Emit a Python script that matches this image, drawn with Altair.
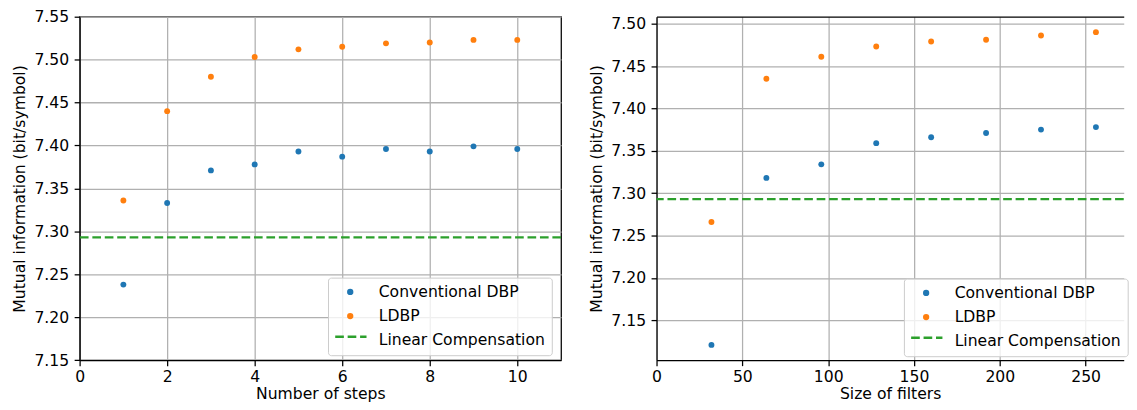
import altair as alt
import pandas as pd

# ---- data ----
steps = [1, 2, 3, 4, 5, 6, 7, 8, 9, 10]
steps_conv = [7.238, 7.333, 7.371, 7.378, 7.393, 7.387, 7.396, 7.393, 7.399, 7.396]
steps_ldbp = [7.336, 7.440, 7.480, 7.503, 7.512, 7.515, 7.519, 7.520, 7.523, 7.523]

filters = [32, 64, 96, 128, 160, 192, 224, 256]
filt_conv = [7.121, 7.318, 7.334, 7.359, 7.366, 7.371, 7.375, 7.378]
filt_ldbp = [7.266, 7.435, 7.461, 7.473, 7.479, 7.481, 7.486, 7.490]

linear_mi = 7.293

series_names = ["Conventional DBP", "LDBP", "Linear Compensation"]
series_colors = ["#1f77b4", "#ff7f0e", "transparent"]
linear_color = "#2ca02c"

left_yticks = [7.15, 7.20, 7.25, 7.30, 7.35, 7.40, 7.45, 7.50, 7.55]
right_yticks = [7.15, 7.20, 7.25, 7.30, 7.35, 7.40, 7.45, 7.50]
left_xticks = [0, 2, 4, 6, 8, 10]
right_xticks = [0, 50, 100, 150, 200, 250]

FONT = "DejaVu Sans"
FS = 15.7
LW = 1.26
DASH = [8.7, 3.8]
H = 345.3


def long_df(xs, conv, ldbp):
    rows = []
    for x, v in zip(xs, conv):
        rows.append({"x": x, "mi": v, "series": series_names[0]})
    for x, v in zip(xs, ldbp):
        rows.append({"x": x, "mi": v, "series": series_names[1]})
    return pd.DataFrame(rows)


df_steps = long_df(steps, steps_conv, steps_ldbp)
df_filt = long_df(filters, filt_conv, filt_ldbp)
df_lin = pd.DataFrame({"mi": [linear_mi], "series": [series_names[2]]})


def point_legend(lx, ly):
    return alt.Legend(
        title=None, orient="none", legendX=lx, legendY=ly, direction="vertical",
        fillColor="rgba(255,255,255,0.8)", strokeColor="#cccccc", cornerRadius=3,
        padding=6.5, labelFont=FONT, labelFontSize=FS, labelColor="black",
        labelOffset=20.8, labelLimit=300, symbolSize=40, symbolOffset=8,
        symbolStrokeWidth=0, symbolOpacity=1, rowPadding=7.3, zindex=1,
    )


def dash_legend(lx, ly):
    return alt.Legend(
        title=None, orient="none", legendX=lx, legendY=ly, direction="vertical",
        padding=0, labelOpacity=0, labelFontSize=FS, symbolSize=990,
        symbolStrokeColor=linear_color, symbolStrokeWidth=2.36, symbolType="stroke",
        zindex=2,
    )


def x_axis(values, title):
    return alt.Axis(
        values=values, title=title, grid=True, gridColor="#b0b0b0", gridWidth=LW,
        domainColor="black", domainWidth=LW, tickColor="black", tickSize=5.5,
        tickWidth=LW, labelPadding=4, labelFont=FONT, labelFontSize=FS,
        labelColor="black", labelFlush=False, labelOverlap=False,
        titleFont=FONT, titleFontSize=FS, titleFontWeight="normal",
        titleColor="black", titlePadding=2,
    )


def y_axis(values):
    return alt.Axis(
        values=values, format=".2f", title="Mutual information (bit/symbol)",
        grid=True, gridColor="#b0b0b0", gridWidth=LW,
        domainColor="black", domainWidth=LW, tickColor="black", tickSize=5.5,
        tickWidth=LW, labelPadding=5.5, labelFont=FONT, labelFontSize=FS,
        labelColor="black", labelFlush=False, labelOverlap=False,
        titleFont=FONT, titleFontSize=FS, titleFontWeight="normal",
        titleColor="black", titlePadding=6.3, minExtent=46, maxExtent=46,
    )


top_axis = alt.Axis(
    orient="top", labels=False, ticks=False, grid=False, title=None,
    domainColor="black", domainWidth=LW,
)


def panel(df, xs, ys, xticks, yticks, xtitle, width, lx, ly, top_spine):
    cscale = alt.Scale(domain=series_names, range=series_colors)
    pts = alt.Chart(df).mark_circle(size=35, opacity=1).encode(
        x=alt.X("x:Q", scale=xs, axis=x_axis(xticks, xtitle)),
        y=alt.Y("mi:Q", scale=ys, axis=y_axis(yticks)),
        color=alt.Color("series:N", scale=cscale, legend=point_legend(lx, ly)),
    )
    rule = alt.Chart(df_lin).mark_rule(color=linear_color, strokeWidth=2.36).encode(
        y=alt.Y("mi:Q", scale=ys),
        strokeDash=alt.StrokeDash(
            "series:N",
            scale=alt.Scale(domain=[series_names[2]], range=[DASH]),
            legend=dash_legend(lx + 6, ly + 42.5),
        ),
    )
    layers = [pts, rule]
    if top_spine:
        top = alt.Chart(df).mark_circle(size=35, opacity=0).encode(
            x=alt.X("x:Q", scale=xs, axis=top_axis),
            y=alt.Y("mi:Q", scale=ys),
        )
        layers.append(top)
        ch = alt.layer(*layers).resolve_axis(x="independent").properties(
            width=width, height=H,
            view=alt.ViewBackground(stroke="transparent"),
        )
    else:
        ch = alt.layer(*layers).properties(
            width=width, height=H,
            view=alt.ViewBackground(stroke="black", strokeWidth=LW),
        )
    return ch


left = panel(
    df_steps,
    alt.Scale(domain=[0, 11], nice=False, zero=False),
    alt.Scale(domain=[7.15, 7.55], nice=False, zero=False),
    left_xticks, left_yticks, "Number of steps", 484, 249.7, 262.3, False,
)
right = panel(
    df_filt,
    alt.Scale(domain=[0, 272.2], nice=False, zero=False),
    alt.Scale(domain=[7.103, 7.5082], nice=False, zero=False),
    right_xticks, right_yticks, "Size of filters", 469.7, 248.7, 263.3, True,
)

chart = alt.hconcat(left, right, spacing=96, bounds="flush").resolve_scale(
    color="independent", strokeDash="independent"
).properties(
    padding={"left": 3, "top": -1.3, "right": 0, "bottom": 0},
    background="white",
)

chart.save("out.html", embed_options={"renderer": "svg", "actions": False})
